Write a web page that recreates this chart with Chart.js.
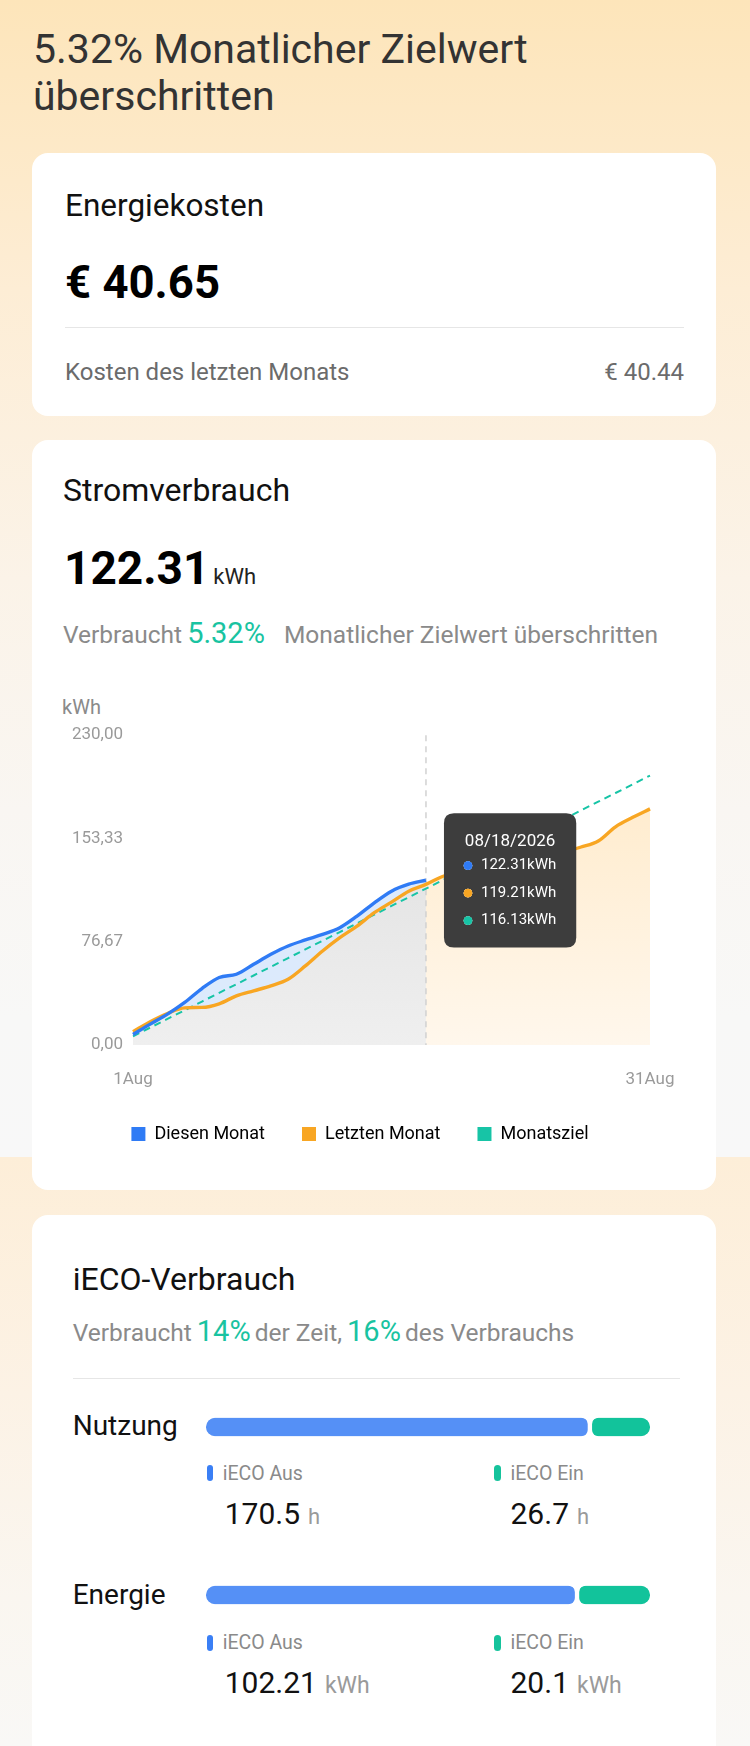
<!DOCTYPE html>
<html lang="de">
<head>
<meta charset="utf-8">
<title>Stromverbrauch</title>
<script src="https://cdn.jsdelivr.net/npm/chart.js@4.4.1/dist/chart.umd.min.js"></script>
<style>
  html, body { margin: 0; padding: 0; }
  body { width: 750px; height: 1746px; position: relative; overflow: hidden; font-family: Roboto, "Noto Sans", sans-serif; background: #f8f8f8; }
  .abs { position: absolute; white-space: nowrap; }
  .bg1 { position: absolute; left: 0; top: 0; width: 750px; height: 1157px; background: linear-gradient(180deg, #fde5ba 0%, #fdedd5 25%, #fbf3e8 50%, #f9f6f2 70%, #f8f8f7 88%, #f8f8f8 100%); }
  .bg2 { position: absolute; left: 0; top: 1157px; width: 750px; height: 589px; background: linear-gradient(180deg, #fdeed8 0%, #fcf2e5 40%, #faf6f0 75%, #f9f8f6 100%); }
  .card { position: absolute; left: 32px; width: 684px; background: #fff; border-radius: 16px; }
  .line { position: absolute; height: 1px; background: #e6e6e6; }
  .flexb { position: absolute; display: flex; align-items: baseline; white-space: nowrap; }
  .flexb span { line-height: 1; }
  .mark { position: absolute; width: 6.5px; height: 16px; border-radius: 3.5px; }
</style>
</head>
<body>
<div class="bg1"></div>
<div class="bg2"></div>

<div class="abs" style="left:33px; top:25.8px; font-size:41px; line-height:47px; color:#333;">5.32% Monatlicher Zielwert<br>überschritten</div>

<!-- Card 1 -->
<div class="card" style="top:153px; height:263px;"></div>
<div class="abs" style="left:65px; top:190.2px; font-size:31.5px; line-height:31.5px; color:#111;">Energiekosten</div>
<div class="abs" style="left:65px; top:260px; font-size:45.5px; line-height:45.5px; font-weight:700; color:#000;">€ 40.65</div>
<div class="line" style="left:65px; top:327px; width:619px;"></div>
<div class="abs" style="left:65px; top:359.8px; font-size:24px; line-height:24px; color:#6b6b6b;">Kosten des letzten Monats</div>
<div class="abs" style="right:66px; top:359.8px; font-size:24px; line-height:24px; color:#6b6b6b;">€ 40.44</div>

<!-- Card 2 -->
<div class="card" style="top:440px; height:750px;"></div>
<div class="abs" style="left:63px; top:474.1px; font-size:32px; line-height:32px; color:#111;">Stromverbrauch</div>
<div class="flexb" style="left:64px; top:545.3px;">
  <span style="font-size:46px; font-weight:700; color:#000;">122.31</span>
  <span style="font-size:22px; color:#222; margin-left:4px;">kWh</span>
</div>
<div class="flexb" style="left:63px; top:619.1px;">
  <span style="font-size:24.5px; color:#8a8a8a;">Verbraucht</span>
  <span style="font-size:29px; color:#19c3a1; margin-left:5px;">5.32%</span>
  <span style="font-size:24.5px; color:#8a8a8a; margin-left:19px;">Monatlicher Zielwert überschritten</span>
</div>
<div class="abs" style="left:62px; top:696.5px; font-size:20px; line-height:20px; color:#8a8a8a;">kWh</div>
<canvas id="main" class="abs" style="left:32px; top:715px;" width="684" height="438"></canvas>

<!-- Card 3 -->
<div class="card" style="top:1215px; height:560px;"></div>
<div class="abs" style="left:72.7px; top:1263.4px; font-size:32px; line-height:32px; color:#111;">iECO-Verbrauch</div>
<div class="flexb" style="left:72.7px; top:1316.6px;">
  <span style="font-size:24.5px; color:#8a8a8a;">Verbraucht</span>
  <span style="font-size:29px; color:#19c3a1; margin-left:5px;">14%</span>
  <span style="font-size:24.5px; color:#8a8a8a; margin-left:4px;">der Zeit,</span>
  <span style="font-size:29px; color:#19c3a1; margin-left:5px;">16%</span>
  <span style="font-size:24.5px; color:#8a8a8a; margin-left:4px;">des Verbrauchs</span>
</div>
<div class="line" style="left:72.7px; top:1378px; width:607px;"></div>

<div class="abs" style="left:72.7px; top:1412.2px; font-size:28px; line-height:28px; color:#111;">Nutzung</div>
<canvas id="barUsage" class="abs" style="left:206px; top:1414.5px;" width="444" height="24"></canvas>
<div class="mark" style="left:206.5px; top:1465px; background:#3a7ff5;"></div>
<div class="abs" style="left:222.7px; top:1463.6px; font-size:19.5px; line-height:19.5px; color:#8a8a8a;">iECO Aus</div>
<div class="mark" style="left:494px; top:1465px; background:#15c39c;"></div>
<div class="abs" style="left:510.5px; top:1463.6px; font-size:19.5px; line-height:19.5px; color:#8a8a8a;">iECO Ein</div>
<div class="flexb" style="left:224.7px; top:1499.1px;">
  <span style="font-size:30px; color:#111;">170.5</span>
  <span style="font-size:22px; color:#9a9a9a; margin-left:8px;">h</span>
</div>
<div class="flexb" style="left:510.5px; top:1499.1px;">
  <span style="font-size:30px; color:#111;">26.7</span>
  <span style="font-size:22px; color:#9a9a9a; margin-left:8px;">h</span>
</div>

<div class="abs" style="left:72.7px; top:1581.1px; font-size:28px; line-height:28px; color:#111;">Energie</div>
<canvas id="barEnergy" class="abs" style="left:206px; top:1583.3px;" width="444" height="24"></canvas>
<div class="mark" style="left:206.5px; top:1634.6px; background:#3a7ff5;"></div>
<div class="abs" style="left:222.7px; top:1632.9px; font-size:19.5px; line-height:19.5px; color:#8a8a8a;">iECO Aus</div>
<div class="mark" style="left:494px; top:1634.6px; background:#15c39c;"></div>
<div class="abs" style="left:510.5px; top:1632.9px; font-size:19.5px; line-height:19.5px; color:#8a8a8a;">iECO Ein</div>
<div class="flexb" style="left:224.7px; top:1668px;">
  <span style="font-size:30px; color:#111;">102.21</span>
  <span style="font-size:23px; color:#9a9a9a; margin-left:8px;">kWh</span>
</div>
<div class="flexb" style="left:510.5px; top:1668px;">
  <span style="font-size:30px; color:#111;">20.1</span>
  <span style="font-size:23px; color:#9a9a9a; margin-left:8px;">kWh</span>
</div>

<script>
// ---------- data ----------
const days = [1, 2, 3, 4, 5, 6, 7, 8, 9, 10, 11, 12, 13, 14, 15, 16, 17, 18, 19, 20, 21, 22, 23, 24, 25, 26, 27, 28, 29, 30, 31];
const monthName = 'Aug';
const yearText = '2026';
const thisMonth = [7.8, 15.5, 22.9, 31.6, 41.9, 50.1, 52.5, 59.9, 67.3, 73.5, 78.0, 82.1, 87.1, 95.7, 105.5, 114.2, 119.4, 122.31];
const lastMonth = [9.9, 17.3, 23.4, 27.6, 27.9, 30.6, 36.5, 40.2, 43.9, 48.8, 58.7, 69.8, 79.7, 88.3, 98.2, 106.1, 114.2, 119.21, 125.3, 128.6, 131.4, 134.2, 137.0, 139.6, 141.5, 143.3, 147.0, 151.5, 162.0, 169.0, 175.3];
const monthTarget = [6.45, 12.90, 19.35, 25.81, 32.26, 38.71, 45.16, 51.61, 58.06, 64.52, 70.97, 77.42, 83.87, 90.32, 96.77, 103.23, 109.68, 116.13, 122.58, 129.03, 135.48, 141.94, 148.39, 154.84, 161.29, 167.74, 174.19, 180.65, 187.10, 193.55, 200.00];
const seriesNames = ['Diesen Monat', 'Letzten Monat', 'Monatsziel'];
const seriesColors = ['#2f7bf5', '#f8a623', '#17c4a6'];
const yTickValues = [0, 76.67, 153.33, 230];
const hoverIndex = 17;

const ecoNames = ['iECO Aus', 'iECO Ein'];
const ecoColors = ['#5590f6', '#12c39b'];
const usageHours = [170.5, 26.7];
const energyKwh = [102.21, 20.1];

Chart.defaults.font.family = 'Roboto, "Noto Sans", sans-serif';

// area paint for "Letzten Monat": grey up to the selected day, light orange after it
function areaPattern(chart) {
  const a = chart.chartArea;
  const xs = chart.scales && chart.scales.x;
  if (!a || !xs) return '#ececec';
  const split = xs.getPixelForValue(hoverIndex);
  const c = document.createElement('canvas');
  c.width = Math.ceil(chart.width);
  c.height = Math.ceil(chart.height);
  const g = c.getContext('2d');
  const grey = g.createLinearGradient(0, a.top, 0, a.bottom);
  grey.addColorStop(0, '#dcdcdc');
  grey.addColorStop(1, '#efefef');
  const orange = g.createLinearGradient(0, a.top, 0, a.bottom);
  orange.addColorStop(0, '#ffe9c6');
  orange.addColorStop(1, '#fff7ec');
  g.fillStyle = grey;
  g.fillRect(0, 0, split, c.height);
  g.fillStyle = orange;
  g.fillRect(split, 0, c.width - split, c.height);
  return chart.ctx.createPattern(c, 'no-repeat');
}

Chart.Tooltip.positioners.shifted = function (items) {
  const p = Chart.Tooltip.positioners.average.call(this, items);
  return p ? { x: p.x, y: p.y - 4 } : false;
};

const hoverLine = {
  id: 'hoverLine',
  beforeDatasetsDraw(chart) {
    const x = chart.scales.x.getPixelForValue(hoverIndex);
    const a = chart.chartArea;
    const ctx = chart.ctx;
    ctx.save();
    ctx.strokeStyle = '#d2d2d2';
    ctx.lineWidth = 1.5;
    ctx.setLineDash([6, 5]);
    ctx.beginPath();
    ctx.moveTo(x, a.top);
    ctx.lineTo(x, a.bottom);
    ctx.stroke();
    ctx.restore();
  }
};

const mainChart = new Chart(document.getElementById('main'), {
  type: 'line',
  data: {
    labels: days,
    datasets: [
      {
        label: seriesNames[0],
        data: thisMonth,
        borderColor: seriesColors[0],
        backgroundColor: seriesColors[0],
        borderWidth: 3.4,
        pointRadius: 0,
        pointHoverRadius: 0,
        pointStyle: 'circle',
        cubicInterpolationMode: 'monotone',
        fill: { target: 1, above: 'rgba(214,230,252,0.85)', below: 'rgba(0,0,0,0)' }
      },
      {
        label: seriesNames[1],
        data: lastMonth,
        borderColor: seriesColors[1],
        backgroundColor: (ctx) => areaPattern(ctx.chart),
        borderWidth: 3.4,
        pointRadius: 0,
        pointHoverRadius: 0,
        pointStyle: 'circle',
        cubicInterpolationMode: 'monotone',
        fill: 'origin'
      },
      {
        label: seriesNames[2],
        data: monthTarget,
        borderColor: seriesColors[2],
        backgroundColor: seriesColors[2],
        borderWidth: 2,
        borderDash: [7, 5],
        pointRadius: 0,
        pointHoverRadius: 0,
        pointStyle: 'circle',
        tension: 0,
        fill: false
      }
    ]
  },
  options: {
    responsive: false,
    animation: false,
    events: [],
    layout: { padding: { top: 16.7, right: 28, bottom: 0, left: 0 } },
    interaction: { mode: 'index', intersect: false },
    scales: {
      x: {
        grid: { display: false, drawTicks: false },
        border: { display: false },
        afterFit: (s) => { s.height = 43; },
        ticks: {
          autoSkip: false,
          maxRotation: 0,
          padding: 25,
          color: '#9a9a9a',
          font: { size: 17 },
          callback: (v, i) => (i === 0 || i === days.length - 1) ? days[i] + monthName : ''
        }
      },
      y: {
        min: 0,
        max: 230,
        grid: { display: false, drawTicks: false },
        border: { display: false },
        afterFit: (s) => { s.width = 101; },
        afterBuildTicks: (s) => { s.ticks = yTickValues.map(v => ({ value: v })); },
        ticks: {
          padding: 10,
          color: '#9a9a9a',
          font: { size: 17 },
          callback: (v) => Number(v).toFixed(2).replace('.', ',')
        }
      },
      y2: {
        position: 'right',
        display: true,
        grid: { display: false, drawTicks: false },
        border: { display: false },
        ticks: { display: false },
        afterFit: (s) => { s.width = 38; }
      }
    },
    plugins: {
      filler: { drawTime: 'beforeDatasetsDraw' },
      legend: {
        position: 'bottom',
        labels: {
          boxWidth: 14,
          boxHeight: 14,
          padding: 37,
          color: '#333',
          font: { size: 18 },
          generateLabels: () => seriesNames.map((n, i) => ({
            text: n, fillStyle: seriesColors[i], strokeStyle: seriesColors[i], lineWidth: 0, datasetIndex: i, hidden: false
          }))
        }
      },
      tooltip: {
        enabled: true,
        position: 'shifted',
        xAlign: 'left',
        yAlign: 'center',
        caretSize: 0,
        caretPadding: 18,
        backgroundColor: '#3d3d3d',
        cornerRadius: 10,
        padding: { left: 20, right: 20, top: 18, bottom: 18 },
        titleAlign: 'center',
        bodyAlign: 'left',
        titleColor: '#ffffff',
        bodyColor: '#ffffff',
        titleFont: { size: 17, weight: 'normal' },
        bodyFont: { size: 15, weight: 'normal' },
        titleMarginBottom: 5,
        bodySpacing: 9.5,
        displayColors: true,
        usePointStyle: true,
        boxWidth: 8,
        boxHeight: 8,
        boxPadding: 7,
        callbacks: {
          title: (items) => '08/' + String(days[items[0].dataIndex]).padStart(2, '0') + '/' + yearText,
          label: (ctx) => ctx.parsed.y.toFixed(2) + 'kWh',
          labelColor: (ctx) => ({ borderColor: seriesColors[ctx.datasetIndex], backgroundColor: seriesColors[ctx.datasetIndex], borderWidth: 0 }),
          labelPointStyle: () => ({ pointStyle: 'circle', rotation: 0 })
        }
      }
    }
  },
  plugins: [hoverLine]
});

const active = [0, 1, 2].map(d => ({ datasetIndex: d, index: hoverIndex }));
mainChart.tooltip.setActiveElements(active, { x: 0, y: 0 });
mainChart.update();

function ecoBar(id, values) {
  const total = values[0] + values[1];
  const r = { topLeft: 9, topRight: 9, bottomLeft: 9, bottomRight: 9 };
  return new Chart(document.getElementById(id), {
    type: 'bar',
    data: {
      labels: [''],
      datasets: [
        { label: ecoNames[0], data: [values[0]], backgroundColor: ecoColors[0], borderColor: '#ffffff', borderWidth: { right: 2.5, left: 0, top: 0, bottom: 0 }, borderRadius: r, borderSkipped: false, barThickness: 18.5 },
        { label: ecoNames[1], data: [values[1]], backgroundColor: ecoColors[1], borderColor: '#ffffff', borderWidth: { left: 2.5, right: 0, top: 0, bottom: 0 }, borderRadius: r, borderSkipped: false, barThickness: 18.5 }
      ]
    },
    options: {
      indexAxis: 'y',
      responsive: false,
      animation: false,
      events: [],
      layout: { padding: 0 },
      plugins: { legend: { display: false }, tooltip: { enabled: false } },
      scales: {
        x: { stacked: true, display: false, min: 0, max: total },
        y: { stacked: true, display: false }
      }
    }
  });
}
ecoBar('barUsage', usageHours);
ecoBar('barEnergy', energyKwh);
</script>
</body>
</html>
